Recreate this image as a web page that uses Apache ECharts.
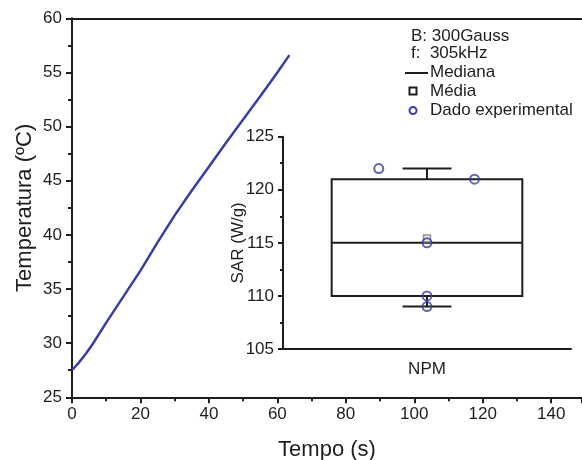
<!DOCTYPE html>
<html>
<head>
<meta charset="utf-8">
<script src="https://cdn.jsdelivr.net/npm/echarts@6/dist/echarts.min.js"></script>
<style>html,body{margin:0;padding:0;background:#fff}#c{width:582px;height:460px}</style>
</head>
<body>
<div id="c"></div>
<script>
// Main heating curve: time (s) and temperature (ºC)
var timeS = [0, 2, 4, 6, 10, 15, 20, 25, 30, 35, 40, 45, 50, 55, 60, 63.5];
var tempC = [27.5, 28.2, 29.0, 29.9, 31.9, 34.3, 36.7, 39.3, 41.8, 44.1, 46.3, 48.5, 50.65, 52.8, 55.0, 56.6];
// Inset box plot (SAR, W/g)
var insetCategories = ['NPM'];
var boxStats = [109, 110, 115, 121, 122]; // min, Q1, median, Q3, max
var sarMean = 115.4;
var sarPoints = [122, 121, 115, 110, 109];
var pointJitter = [-0.335, 0.33, 0, 0, 0];
var legendLines = ['B: 300Gauss', 'f:  305kHz', 'Mediana', 'Média', 'Dado experimental'];

var FONT = 'Liberation Sans, Arial, sans-serif';
var INK = '#1e1e1e';
var BLUE = '#3a3da3';
var LEG = '17px ' + FONT;

var lineData = timeS.map(function (t, i) { return [t, tempC[i]]; });
var pointData = sarPoints.map(function (v, i) { return [pointJitter[i], v]; });

var chart = echarts.init(document.getElementById('c'), null, {renderer: 'canvas'});
chart.setOption({
  animation: false,
  backgroundColor: '#fff',
  grid: [
    {left: 72, top: 18.3, right: 0, bottom: 62.7, outerBoundsMode: 'none', containLabel: false},
    {left: 283, top: 136.7, right: 11, bottom: 111, outerBoundsMode: 'none', containLabel: false}
  ],
  xAxis: [
    {
      type: 'value', gridIndex: 0, min: 0, max: 149, interval: 20,
      axisLine: {onZero: false, lineStyle: {color: INK, width: 2}},
      axisTick: {length: 6, lineStyle: {color: INK, width: 2}},
      minorTick: {show: true, splitNumber: 2, length: 4, lineStyle: {color: INK, width: 2}},
      splitLine: {show: false},
      axisLabel: {color: INK, fontSize: 17, fontFamily: FONT, margin: 9, showMaxLabel: false},
      name: 'Tempo (s)', nameLocation: 'middle', nameGap: 42,
      nameTextStyle: {color: INK, fontSize: 22, fontFamily: FONT}
    },
    {
      type: 'value', gridIndex: 0, position: 'top', min: 0, max: 149,
      axisLine: {show: true, onZero: false, lineStyle: {color: INK, width: 2}},
      axisTick: {show: false}, axisLabel: {show: false}, splitLine: {show: false}
    },
    {
      type: 'category', gridIndex: 1, data: insetCategories,
      axisLine: {onZero: false, lineStyle: {color: INK, width: 2}},
      axisTick: {alignWithLabel: true, length: 5, lineStyle: {color: INK, width: 2}},
      axisLabel: {color: INK, fontSize: 17, fontFamily: FONT, margin: 12}
    },
    {
      type: 'value', gridIndex: 1, min: -1, max: 1, show: false,
      axisLine: {onZero: false}
    }
  ],
  yAxis: [
    {
      type: 'value', gridIndex: 0, min: 25, max: 60, interval: 5,
      axisLine: {show: true, onZero: false, lineStyle: {color: INK, width: 2}},
      axisTick: {show: true, length: 6, lineStyle: {color: INK, width: 2}},
      minorTick: {show: true, splitNumber: 2, length: 4, lineStyle: {color: INK, width: 2}},
      splitLine: {show: false},
      axisLabel: {color: INK, fontSize: 17, fontFamily: FONT, margin: 10},
      name: 'Temperatura (ºC)', nameLocation: 'middle', nameGap: 36, nameMoveOverlap: false,
      nameTextStyle: {color: INK, fontSize: 22, fontFamily: FONT}
    },
    {
      type: 'value', gridIndex: 1, min: 105, max: 125, interval: 5,
      axisLine: {show: true, onZero: false, lineStyle: {color: INK, width: 2}},
      axisTick: {show: true, length: 5, lineStyle: {color: INK, width: 2}},
      minorTick: {show: true, splitNumber: 2, length: 3, lineStyle: {color: INK, width: 2}},
      splitLine: {show: false},
      axisLabel: {color: INK, fontSize: 17, fontFamily: FONT, margin: 9},
      name: 'SAR (W/g)', nameLocation: 'middle', nameGap: 36, nameMoveOverlap: false,
      nameTextStyle: {color: INK, fontSize: 17, fontFamily: FONT}
    }
  ],
  series: [
    {
      type: 'line', xAxisIndex: 0, yAxisIndex: 0, data: lineData,
      showSymbol: false, symbol: 'none',
      lineStyle: {color: BLUE, width: 2.5}
    },
    {
      type: 'custom', xAxisIndex: 3, yAxisIndex: 1,
      data: [[0].concat(boxStats)],
      renderItem: function (params, api) {
        var x = api.value(0);
        var mn = api.coord([x, api.value(1)]);
        var q1 = api.coord([x, api.value(2)]);
        var md = api.coord([x, api.value(3)]);
        var q3 = api.coord([x, api.value(4)]);
        var mx = api.coord([x, api.value(5)]);
        var bl = api.coord([x - 0.662, 0])[0], br = api.coord([x + 0.662, 0])[0];
        var cl = api.coord([x - 0.17, 0])[0], cr = api.coord([x + 0.17, 0])[0];
        var st = {stroke: INK, lineWidth: 2, fill: null};
        return {
          type: 'group',
          children: [
            {type: 'rect', shape: {x: bl, y: q3[1], width: br - bl, height: q1[1] - q3[1]}, style: st},
            {type: 'line', shape: {x1: bl, y1: md[1], x2: br, y2: md[1]}, style: st},
            {type: 'line', shape: {x1: mx[0], y1: q3[1], x2: mx[0], y2: mx[1]}, style: st},
            {type: 'line', shape: {x1: cl, y1: mx[1], x2: cr, y2: mx[1]}, style: st},
            {type: 'line', shape: {x1: mn[0], y1: q1[1], x2: mn[0], y2: mn[1]}, style: st},
            {type: 'line', shape: {x1: cl, y1: mn[1], x2: cr, y2: mn[1]}, style: st}
          ]
        };
      }
    },
    {
      type: 'scatter', xAxisIndex: 3, yAxisIndex: 1,
      data: [[0, sarMean]], symbol: 'rect', symbolSize: 7,
      itemStyle: {color: '#e8e8e8', borderColor: '#777', borderWidth: 1.5}, z: 3
    },
    {
      type: 'scatter', xAxisIndex: 3, yAxisIndex: 1,
      data: pointData, symbol: 'circle', symbolSize: 9,
      itemStyle: {color: 'rgba(255,255,255,0)', borderColor: BLUE, borderWidth: 2}, z: 4
    }
  ],
  graphic: [
    {type: 'text', left: 411, top: 27.5, style: {text: legendLines[0], font: LEG, fill: INK}},
    {type: 'text', left: 411, top: 44.5, style: {text: legendLines[1], font: LEG, fill: INK}},
    {type: 'line', shape: {x1: 405, y1: 73, x2: 428, y2: 73}, style: {stroke: INK, lineWidth: 2}},
    {type: 'text', left: 430, top: 64, style: {text: legendLines[2], font: LEG, fill: INK}},
    {type: 'rect', shape: {x: 409.5, y: 87.5, width: 7, height: 7}, style: {stroke: INK, lineWidth: 2, fill: null}},
    {type: 'text', left: 430, top: 82.5, style: {text: legendLines[3], font: LEG, fill: INK}},
    {type: 'circle', shape: {cx: 413, cy: 110.5, r: 3.5}, style: {stroke: BLUE, lineWidth: 2, fill: null}},
    {type: 'text', left: 430, top: 101.5, style: {text: legendLines[4], font: LEG, fill: INK}}
  ]
});
</script>
</body>
</html>
